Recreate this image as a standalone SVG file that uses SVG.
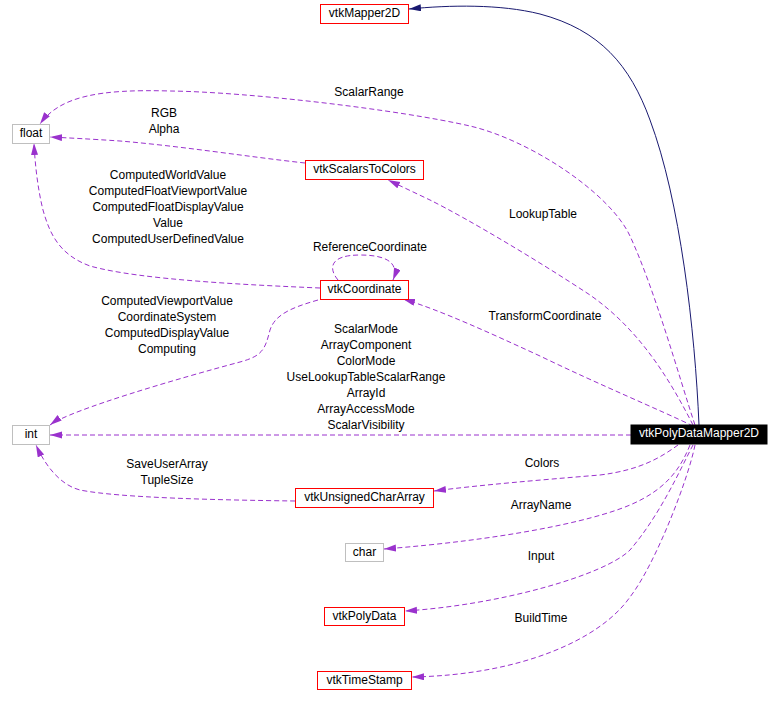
<svg xmlns="http://www.w3.org/2000/svg" width="781" height="706" viewBox="0 0 781 706">
<defs>
<style>
.n rect{fill:#fff;stroke:#ff0000;stroke-width:1}
.n.g rect{stroke:#bfbfbf}
.n.m rect{fill:#000;stroke:#000}
text{font-family:"Liberation Sans",Arial,sans-serif;font-size:12px;fill:#000}
.n text{text-anchor:middle}
.n.m text{fill:#fff}
.lbl text{text-anchor:middle}
.e{fill:none;stroke:#9a32cd;stroke-width:1;stroke-dasharray:5,3;marker-end:url(#ap)}
.s{fill:none;stroke:#191970;stroke-width:1;marker-end:url(#an)}
</style>
<marker id="ap" markerWidth="12" markerHeight="8" refX="12" refY="3.5" orient="auto" markerUnits="userSpaceOnUse"><path d="M0,0 L12,3.5 L0,7 z" fill="#9a32cd"/></marker>
<marker id="an" markerWidth="12" markerHeight="8" refX="12" refY="3.5" orient="auto" markerUnits="userSpaceOnUse"><path d="M0,0 L12,3.5 L0,7 z" fill="#191970"/></marker>
</defs>
<rect width="781" height="706" fill="#fff"/>
<g id="connectors">
<path class="s" d="M699,425 C695,330 680,200 650,120 C630,65 600,30 540,14 C500,4 450,5 409,9"/>
<path class="e" d="M695,425 C680,380 655,290 630,236 C610,193 530,140 470,126 C400,110 250,92 170,91 C100,89 60,96 40,124"/>
<path class="e" d="M305,163 C250,157 180,146 120,141 C90,139 70,138 50,137"/>
<path class="e" d="M693,425 C670,380 640,330 590,295 C540,262 470,220 430,200 L388,180"/>
<path class="e" d="M320,288 C250,285 140,280 90,266 C60,255 50,235 43,210 C38,190 35,165 34,143"/>
<path class="e" d="M338,280 C328,268 330,255 360,255 C385,255 400,262 393,280"/>
<path class="e" d="M693,426 C660,410 600,385 540,356 C490,333 440,310 403,299"/>
<path class="e" d="M318,300 C290,308 275,315 270,330 C265,350 262,356 240,362 C180,378 70,410 50,425"/>
<path class="e" d="M631,435 L50,435"/>
<path class="e" d="M295,501 C220,500 120,498 80,490 C60,485 45,465 36,445"/>
<path class="e" d="M678,445 C660,458 640,470 600,475 C540,480 480,485 434,491"/>
<path class="e" d="M690,445 C680,470 665,490 630,505 C590,522 500,540 384,549"/>
<path class="e" d="M693,445 C680,470 660,515 630,550 C605,575 500,605 405,611"/>
<path class="e" d="M695,445 C688,480 655,565 630,597 C600,640 520,675 412,677"/>
</g>
<g id="labels" class="lbl">
<text x="369" y="96">ScalarRange</text>
<text x="164" y="117">RGB</text>
<text x="164" y="133">Alpha</text>
<text x="543" y="218">LookupTable</text>
<text x="168" y="179">ComputedWorldValue</text>
<text x="168" y="195">ComputedFloatViewportValue</text>
<text x="168" y="211">ComputedFloatDisplayValue</text>
<text x="168" y="227">Value</text>
<text x="168" y="243">ComputedUserDefinedValue</text>
<text x="370" y="251">ReferenceCoordinate</text>
<text x="545" y="320">TransformCoordinate</text>
<text x="167" y="305">ComputedViewportValue</text>
<text x="167" y="321">CoordinateSystem</text>
<text x="167" y="337">ComputedDisplayValue</text>
<text x="167" y="353">Computing</text>
<text x="366" y="333">ScalarMode</text>
<text x="366" y="349">ArrayComponent</text>
<text x="366" y="365">ColorMode</text>
<text x="366" y="381">UseLookupTableScalarRange</text>
<text x="366" y="397">ArrayId</text>
<text x="366" y="413">ArrayAccessMode</text>
<text x="366" y="429">ScalarVisibility</text>
<text x="167" y="468">SaveUserArray</text>
<text x="167" y="484">TupleSize</text>
<text x="542" y="467">Colors</text>
<text x="541" y="509">ArrayName</text>
<text x="541" y="560">Input</text>
<text x="541" y="622">BuildTime</text>
</g>
<g id="vtkMapper2D" class="n"><rect x="320.5" y="4.5" width="88" height="19"/><text x="364.5" y="16.5">vtkMapper2D</text></g>
<g id="float" class="n g"><rect x="12.5" y="124.5" width="37" height="19"/><text x="31" y="136.5">float</text></g>
<g id="vtkScalarsToColors" class="n"><rect x="305.5" y="160.5" width="118" height="19"/><text x="364.5" y="172.5">vtkScalarsToColors</text></g>
<g id="vtkCoordinate" class="n"><rect x="320.5" y="280.5" width="88" height="19"/><text x="364.5" y="292.5">vtkCoordinate</text></g>
<g id="int" class="n g"><rect x="12.5" y="425.5" width="37" height="19"/><text x="31" y="437.5">int</text></g>
<g id="vtkPolyDataMapper2D" class="n m"><rect x="631" y="425" width="136" height="19"/><text x="699" y="437">vtkPolyDataMapper2D</text></g>
<g id="vtkUnsignedCharArray" class="n"><rect x="295.5" y="488.5" width="138" height="19"/><text x="364.5" y="500.5">vtkUnsignedCharArray</text></g>
<g id="char" class="n g"><rect x="345.5" y="543.5" width="38" height="18"/><text x="364.5" y="555.5">char</text></g>
<g id="vtkPolyData" class="n"><rect x="324.5" y="607.5" width="80" height="18"/><text x="364.5" y="619.5">vtkPolyData</text></g>
<g id="vtkTimeStamp" class="n"><rect x="317.5" y="671.5" width="94" height="18"/><text x="364.5" y="683.5">vtkTimeStamp</text></g>
</svg>
